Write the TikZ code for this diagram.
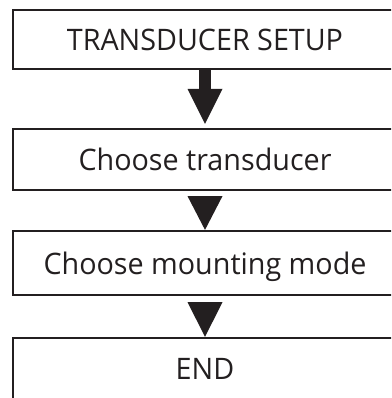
\documentclass[tikz,border=0pt]{standalone}
\usepackage{fontspec}
\setmainfont{Open Sans}[FakeStretch=0.97]
\usetikzlibrary{arrows.meta,calc}
\definecolor{ink}{HTML}{231F20}
\begin{document}
\begin{tikzpicture}[x=1pt,y=-1pt,
  box/.style={draw=ink,line width=2.2pt,minimum width=384pt,inner sep=0pt,
    text=ink,font=\fontsize{29.6}{34}\selectfont,text height=22.4pt,text depth=0pt},
  bigarrow/.style={ink,line width=12pt,shorten >=4pt,
    -{Triangle[width=35pt,length=35pt,line width=0pt]}},
  tri/.style={fill=ink}]
\useasboundingbox (0,0) rectangle (391,398);
\clip (0,0) rectangle (391,398);
\node[box,minimum height=59.5pt] (b1) at (205,39.5) {TRANSDUCER SETUP};
\node[box,minimum height=61pt] (b2) at (205,159.5) {Choose transducer};
\node[box,minimum height=64pt] (b3) at (205,263) {Choose mounting mode};
\node[box,minimum height=70pt,text height=12pt] (b4) at (205,373) {END};
\draw[bigarrow] (b1.south) -- (b2.north);
\path[tri] ($(b2.south)+(-17.5,5)$) -- ($(b2.south)+(17.5,5)$) -- (b3.north) -- cycle;
\path[tri] ($(b3.south)+(-17.5,6)$) -- ($(b3.south)+(17.5,6)$) -- (b4.north) -- cycle;
\end{tikzpicture}
\end{document}
